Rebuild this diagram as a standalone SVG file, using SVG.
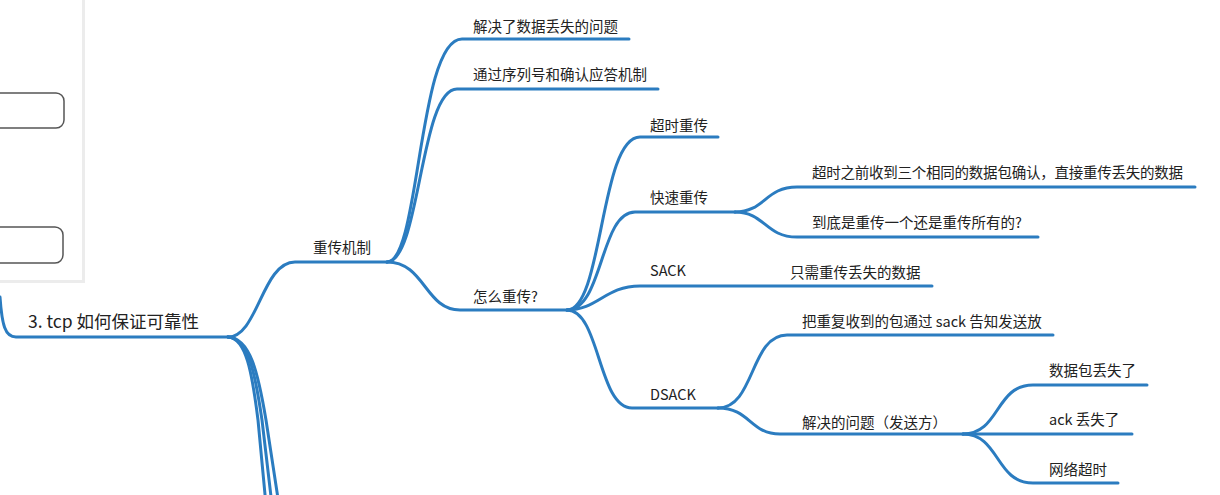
<svg xmlns="http://www.w3.org/2000/svg" width="1220" height="495" viewBox="0 0 1220 495">
<style>
.l{fill:none;stroke:#2b7cc0;stroke-width:3;stroke-linecap:round}
.t{font-family:"Noto Sans CJK SC","Noto Sans",sans-serif;font-size:14.5px;fill:#222}
.r{font-size:17.5px}
.box{fill:#fff;stroke:#555;stroke-width:1.5}
</style>
<rect width="1220" height="495" fill="#fff"/>
<g id="panel">
<rect x="-10" y="-10" width="95" height="293" fill="#ececec"/>
<rect x="-10" y="-10" width="92" height="290" fill="#fff"/>
<rect class="box" x="-20" y="93" width="84" height="35" rx="8"/>
<rect class="box" x="-20" y="227" width="83" height="36" rx="8"/>
</g>
<g id="connectors">
<path class="l" d="M0,297 C2,325 5,337 16,337 L228,337"/>
<path class="l" d="M228,337 C258,337 262,262 295,262 L387,262"/>
<path class="l" d="M228,337 C246,338 252,372 258,420 L266,505"/>
<path class="l" d="M228,337 C248,338 255,372 262,420 L272,505"/>
<path class="l" d="M228,337 C250,338 258,372 266,420 L279,505"/>
<path class="l" d="M387,262 C420,262 418,39 462,39 L629,39"/>
<path class="l" d="M387,262 C420,262 420,89 457,89 L658,89"/>
<path class="l" d="M387,262 C425,262 425,310 460,310 L567,310"/>
<path class="l" d="M567,310 C603,310 600,137 640,137 L718,137"/>
<path class="l" d="M567,310 C603,310 600,212 635,212 L735,212"/>
<path class="l" d="M567,310 C598,310 605,286 640,286 L932,286"/>
<path class="l" d="M567,310 C600,310 598,408 632,408 L718,408"/>
<path class="l" d="M735,212 C765,212 765,187 797,187 L1195,187"/>
<path class="l" d="M735,212 C765,212 765,237 797,237 L1038,237"/>
<path class="l" d="M718,408 C755,408 750,335 787,335 L1053,335"/>
<path class="l" d="M718,408 C750,408 750,434 780,434 L963,434"/>
<path class="l" d="M963,434 C1000,434 995,385 1033,385 L1147,385"/>
<path class="l" d="M963,434 L1132,434"/>
<path class="l" d="M963,434 C1000,434 995,483 1033,483 L1118,483"/>
</g>
<g id="root"><text class="t r" x="28" y="328">3. tcp 如何保证可靠性</text></g>
<g id="n-chuanji"><text class="t" x="313" y="253">重传机制</text></g>
<g id="n-jiejue"><text class="t" x="473" y="32">解决了数据丢失的问题</text></g>
<g id="n-tongguo"><text class="t" x="473" y="80">通过序列号和确认应答机制</text></g>
<g id="n-zenme"><text class="t" x="473" y="302">怎么重传?</text></g>
<g id="n-chaoshi"><text class="t" x="650" y="131">超时重传</text></g>
<g id="n-kuaisu"><text class="t" x="650" y="203">快速重传</text></g>
<g id="n-kuaisu1"><text class="t" x="812" y="178" textLength="371" lengthAdjust="spacing">超时之前收到三个相同的数据包确认，直接重传丢失的数据</text></g>
<g id="n-kuaisu2"><text class="t" x="812" y="228">到底是重传一个还是重传所有的?</text></g>
<g id="n-sack"><text class="t" x="650" y="276">SACK</text></g>
<g id="n-sack1"><text class="t" x="790" y="278">只需重传丢失的数据</text></g>
<g id="n-dsack"><text class="t" x="650" y="400">DSACK</text></g>
<g id="n-dsack1"><text class="t" x="802" y="327">把重复收到的包通过 sack 告知发送放</text></g>
<g id="n-dsack2"><text class="t" x="802" y="428">解决的问题（发送方）</text></g>
<g id="n-d1"><text class="t" x="1049" y="376">数据包丢失了</text></g>
<g id="n-d2"><text class="t" x="1049" y="425">ack 丢失了</text></g>
<g id="n-d3"><text class="t" x="1049" y="475">网络超时</text></g>
</svg>
